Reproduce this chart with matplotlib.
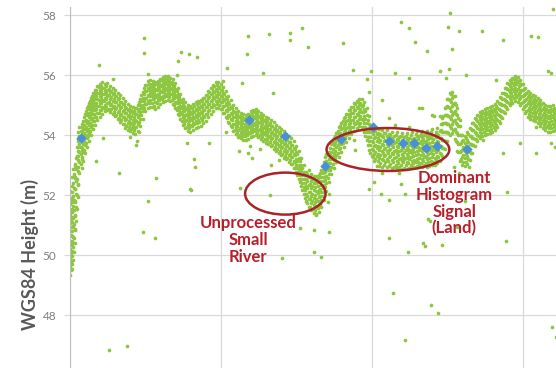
import matplotlib.pyplot as plt
from matplotlib.patches import Ellipse

# along-track distance (m) and WGS84 height (m) of the signal photons,
# dense track given as columns: (distance, [heights at that distance])
band = [
    (0.0, [49.35, 49.62, 49.88, 50.21, 50.47, 50.79, 51.06, 51.38, 51.72, 52.13]),
    (1.5, [49.55, 49.97, 50.36, 50.64, 50.93, 51.27, 51.55, 51.92, 52.31]),
    (3.0, [49.83, 50.28, 50.61, 50.98, 51.24, 51.63, 51.97, 52.42, 52.88]),
    (4.5, [50.42, 50.86, 51.33, 51.78, 52.21, 52.58, 52.97]),
    (6.0, [51.14, 51.61, 52.05, 52.47, 52.86, 53.24]),
    (7.5, [51.93, 52.38, 52.81, 53.16, 53.47, 53.79]),
    (9.0, [52.74, 53.12, 53.44, 53.71, 53.98, 54.26]),
    (10.5, [53.05, 53.38, 53.62, 53.87, 54.15]),
    (12.0, [53.28, 53.57, 53.84, 54.09, 54.37]),
    (14.0, [53.52, 53.81, 54.07, 54.33, 54.61]),
    (16.0, [53.74, 54.02, 54.26, 54.52, 54.79]),
    (18.0, [53.96, 54.21, 54.47, 54.73, 54.98]),
    (20.0, [54.14, 54.42, 54.66, 54.89, 55.13]),
    (22.0, [54.33, 54.58, 54.84, 55.06, 55.29]),
    (24.0, [54.47, 54.72, 54.97, 55.19, 55.41]),
    (26.0, [54.62, 54.86, 55.08, 55.31, 55.52]),
    (28.5, [54.74, 54.97, 55.18, 55.39, 55.61]),
    (31.0, [54.83, 55.06, 55.27, 55.48, 55.64]),
    (33.5, [54.91, 55.14, 55.36, 55.57]),
    (36.0, [54.95, 55.19, 55.42, 55.63]),
    (38.5, [54.88, 55.11, 55.33, 55.54]),
    (41.0, [54.86, 55.04, 55.26, 55.47]),
    (43.5, [54.77, 54.98, 55.21, 55.39]),
    (46.0, [54.68, 54.89, 55.12, 55.31]),
    (48.5, [54.57, 54.79, 55.02, 55.23]),
    (51.0, [54.49, 54.71, 54.93, 55.12]),
    (53.5, [54.38, 54.62, 54.84, 55.03]),
    (56.0, [54.29, 54.53, 54.74, 54.92]),
    (58.5, [54.26, 54.47, 54.68, 54.87]),
    (61.0, [54.21, 54.42, 54.63, 54.84]),
    (63.5, [54.18, 54.39, 54.61, 54.79]),
    (66.0, [54.27, 54.48, 54.71, 54.92]),
    (68.5, [54.44, 54.67, 54.88, 55.09]),
    (71.0, [54.68, 54.91, 55.13, 55.34]),
    (73.5, [54.92, 55.14, 55.36, 55.57]),
    (76.0, [55.03, 55.24, 55.46, 55.68]),
    (78.5, [55.08, 55.29, 55.51, 55.72]),
    (81.0, [55.06, 55.31, 55.52, 55.71]),
    (83.5, [54.98, 55.23, 55.44, 55.66]),
    (86.0, [55.07, 55.28, 55.49, 55.69]),
    (88.5, [55.16, 55.37, 55.58, 55.77]),
    (91.0, [55.22, 55.43, 55.64, 55.83]),
    (93.5, [55.27, 55.48, 55.67, 55.86]),
    (96.0, [55.31, 55.52, 55.71, 55.88]),
    (98.5, [55.28, 55.46, 55.63, 55.81]),
    (101.0, [55.17, 55.38, 55.58, 55.76]),
    (103.5, [55.02, 55.23, 55.44, 55.63]),
    (106.0, [54.84, 55.06, 55.27, 55.46]),
    (108.5, [54.66, 54.87, 55.08, 55.27]),
    (111.0, [54.48, 54.71, 54.92, 55.11]),
    (113.5, [54.36, 54.58, 54.79, 54.98]),
    (116.0, [54.27, 54.49, 54.71, 54.91]),
    (118.5, [54.24, 54.46, 54.68, 54.87]),
    (121.0, [54.29, 54.51, 54.72, 54.92]),
    (123.5, [54.36, 54.57, 54.78, 54.98]),
    (126.0, [54.41, 54.62, 54.84, 55.04]),
    (128.5, [54.45, 54.67, 54.88, 55.07]),
    (131.0, [54.52, 54.74, 54.95, 55.14]),
    (133.5, [54.61, 54.83, 55.04, 55.24]),
    (136.0, [54.72, 54.93, 55.15, 55.35]),
    (138.5, [54.83, 55.05, 55.26, 55.45]),
    (141.0, [54.94, 55.16, 55.37, 55.56]),
    (143.5, [55.02, 55.24, 55.45, 55.64]),
    (146.0, [55.05, 55.26, 55.47, 55.67]),
    (148.5, [54.99, 55.21, 55.42, 55.61]),
    (151.0, [54.88, 55.09, 55.31, 55.51]),
    (153.5, [54.74, 54.96, 55.17, 55.37]),
    (156.0, [54.58, 54.79, 55.01, 55.21]),
    (158.5, [54.42, 54.64, 54.86, 55.05]),
    (161.0, [54.28, 54.49, 54.71, 54.91]),
    (163.5, [54.17, 54.38, 54.59, 54.78]),
    (166.0, [54.08, 54.29, 54.51, 54.71]),
    (168.5, [54.02, 54.23, 54.44, 54.64]),
    (171.0, [53.97, 54.18, 54.39, 54.59]),
    (173.5, [53.96, 54.17, 54.38, 54.57]),
    (176.0, [53.99, 54.21, 54.42, 54.61]),
    (178.5, [54.06, 54.27, 54.48, 54.68]),
    (181.0, [54.11, 54.32, 54.53, 54.73]),
    (183.5, [54.13, 54.34, 54.56, 54.76]),
    (186.0, [54.08, 54.29, 54.51, 54.71]),
    (188.5, [54.0, 54.21, 54.43, 54.63]),
    (191.0, [53.94, 54.15, 54.36, 54.57]),
    (193.5, [53.88, 54.1, 54.31, 54.51]),
    (196.0, [53.83, 54.04, 54.25, 54.46]),
    (198.5, [53.76, 53.97, 54.19, 54.4]),
    (201.0, [53.68, 53.89, 54.11, 54.32]),
    (203.5, [53.61, 53.82, 54.03, 54.24]),
    (206.0, [53.53, 53.74, 53.96, 54.17]),
    (208.5, [53.46, 53.67, 53.88, 54.09]),
    (211.0, [53.38, 53.59, 53.81, 54.02]),
    (213.5, [53.32, 53.53, 53.74, 53.94]),
    (216.0, [53.24, 53.46, 53.67, 53.87]),
    (218.5, [53.16, 53.37, 53.58, 53.78]),
    (221.0, [53.04, 53.26, 53.47, 53.68]),
    (223.5, [52.89, 53.11, 53.33, 53.54]),
    (226.0, [52.68, 52.91, 53.14, 53.36]),
    (228.5, [52.43, 52.67, 52.91, 53.14]),
    (231.0, [52.16, 52.41, 52.66, 52.91]),
    (233.5, [51.92, 52.17, 52.42, 52.67]),
    (236.0, [51.74, 51.98, 52.23, 52.48, 52.72]),
    (238.5, [51.62, 51.86, 52.11, 52.36, 52.61]),
    (241.0, [51.54, 51.79, 52.04, 52.29, 52.54]),
    (243.5, [51.51, 51.76, 52.01, 52.26, 52.52]),
    (246.0, [51.56, 51.81, 52.06, 52.31, 52.57]),
    (248.5, [51.72, 51.97, 52.22, 52.47, 52.73]),
    (251.0, [51.98, 52.23, 52.48, 52.73, 52.98]),
    (253.5, [52.27, 52.52, 52.77, 53.02, 53.26]),
    (256.0, [52.58, 52.83, 53.08, 53.33]),
    (258.5, [52.83, 53.08, 53.33, 53.58]),
    (261.0, [53.04, 53.29, 53.54, 53.78]),
    (263.5, [53.23, 53.48, 53.73, 53.97]),
    (266.0, [53.41, 53.66, 53.91, 54.15]),
    (268.5, [53.58, 53.83, 54.08, 54.31]),
    (271.0, [53.74, 53.99, 54.23, 54.46]),
    (273.5, [53.89, 54.13, 54.37, 54.6]),
    (276.0, [54.03, 54.27, 54.5, 54.72]),
    (278.5, [54.16, 54.4, 54.63, 54.84]),
    (281.0, [54.27, 54.51, 54.74, 54.95]),
    (283.5, [54.36, 54.6, 54.83, 55.03]),
    (286.0, [54.42, 54.66, 54.89, 55.09]),
    (288.5, [54.41, 54.65, 54.88, 55.08]),
    (291.0, [54.27, 54.52, 54.77, 54.99]),
    (293.5, [53.98, 54.27, 54.55, 54.81]),
    (296.0, [53.66, 53.95, 54.24, 54.52]),
    (298.5, [53.41, 53.68, 53.95, 54.22]),
    (301.0, [53.26, 53.51, 53.77, 54.03]),
    (303.5, [53.19, 53.44, 53.68, 53.93, 54.14]),
    (306.0, [53.13, 53.38, 53.63, 53.89, 54.08]),
    (308.5, [53.08, 53.33, 53.59, 53.84, 54.05]),
    (311.0, [53.17, 53.42, 53.68, 53.94]),
    (313.5, [53.1, 53.34, 53.58, 53.83, 54.06]),
    (316.0, [53.14, 53.39, 53.64, 53.88]),
    (318.5, [53.04, 53.29, 53.53, 53.78, 54.01]),
    (321.0, [53.11, 53.36, 53.61, 53.85]),
    (323.5, [53.02, 53.26, 53.51, 53.76, 53.99]),
    (326.0, [53.08, 53.33, 53.59, 53.84]),
    (328.5, [53.01, 53.24, 53.49, 53.73, 53.96]),
    (331.0, [53.09, 53.32, 53.56, 53.81]),
    (333.5, [53.0, 53.25, 53.5, 53.74, 53.97]),
    (336.0, [53.07, 53.31, 53.55, 53.79]),
    (338.5, [53.02, 53.27, 53.52, 53.76, 54.0]),
    (341.0, [53.06, 53.3, 53.55, 53.8]),
    (343.5, [53.09, 53.34, 53.59, 53.84, 54.04]),
    (346.0, [53.12, 53.37, 53.62, 53.87]),
    (348.5, [53.08, 53.33, 53.58, 53.82, 54.03]),
    (351.0, [53.13, 53.38, 53.63, 53.88]),
    (353.5, [53.07, 53.32, 53.57, 53.81, 54.02]),
    (356.0, [53.11, 53.36, 53.61, 53.86]),
    (358.5, [53.14, 53.39, 53.64, 53.89, 54.09]),
    (361.0, [53.12, 53.37, 53.62, 53.87]),
    (363.5, [53.18, 53.43, 53.68, 53.93, 54.12]),
    (366.0, [53.27, 53.52, 53.77, 54.02]),
    (368.5, [53.38, 53.64, 53.9, 54.16, 54.36]),
    (371.0, [53.56, 53.84, 54.12, 54.4, 54.64]),
    (373.5, [53.81, 54.1, 54.39, 54.68, 54.95]),
    (376.0, [54.07, 54.36, 54.65, 54.94, 55.22]),
    (378.5, [54.24, 54.53, 54.82, 55.1, 55.36]),
    (381.0, [54.16, 54.46, 54.75, 55.04, 55.31]),
    (383.5, [53.82, 54.12, 54.42, 54.71, 54.99]),
    (386.0, [53.43, 53.72, 54.01, 54.3, 54.57]),
    (388.5, [53.19, 53.46, 53.74, 54.02]),
    (391.0, [53.09, 53.34, 53.59, 53.85]),
    (393.5, [53.12, 53.37, 53.63, 53.9]),
    (396.0, [53.22, 53.49, 53.76, 54.03]),
    (398.5, [53.42, 53.69, 53.96, 54.21]),
    (401.0, [53.67, 53.92, 54.16, 54.41]),
    (403.5, [53.86, 54.08, 54.31, 54.54]),
    (406.0, [53.98, 54.2, 54.42, 54.63]),
    (408.5, [54.06, 54.28, 54.49, 54.7]),
    (411.0, [54.12, 54.33, 54.54, 54.74]),
    (413.5, [54.16, 54.37, 54.58, 54.78]),
    (416.0, [54.18, 54.39, 54.6, 54.81]),
    (418.5, [54.21, 54.42, 54.63, 54.83]),
    (421.0, [54.26, 54.47, 54.68, 54.88]),
    (423.5, [54.34, 54.55, 54.76, 54.96]),
    (426.0, [54.46, 54.67, 54.88, 55.08]),
    (428.5, [54.61, 54.82, 55.03, 55.23]),
    (431.0, [54.78, 54.99, 55.2, 55.4]),
    (433.5, [54.94, 55.15, 55.36, 55.56]),
    (436.0, [55.08, 55.29, 55.5, 55.69]),
    (438.5, [55.18, 55.39, 55.6, 55.79]),
    (441.0, [55.25, 55.46, 55.67, 55.86]),
    (443.5, [55.27, 55.48, 55.69, 55.87]),
    (446.0, [55.21, 55.42, 55.63, 55.82]),
    (448.5, [55.08, 55.29, 55.5, 55.69]),
    (451.0, [54.93, 55.14, 55.35, 55.55]),
    (453.5, [54.8, 55.01, 55.22, 55.42]),
    (456.0, [54.71, 54.92, 55.13, 55.33]),
    (458.5, [54.65, 54.86, 55.07, 55.27]),
    (461.0, [54.61, 54.82, 55.03, 55.22]),
    (463.5, [54.56, 54.77, 54.98, 55.17]),
    (466.0, [54.49, 54.7, 54.91, 55.11]),
    (468.5, [54.41, 54.62, 54.83, 55.03]),
    (471.0, [54.33, 54.54, 54.75, 54.95]),
    (473.5, [54.26, 54.47, 54.68, 54.88]),
    (476.0, [54.23, 54.44, 54.65, 54.85]),
    (478.5, [54.25, 54.46, 54.67, 54.87]),
    (481.0, [54.28, 54.49, 54.7, 54.9]),
    (483.0, [54.31, 54.52, 54.73]),
]

# second beam pass, shot between the columns above
band2 = [
    (0.75, [49.5, 49.78, 50.08, 50.35, 50.66, 50.95, 51.22, 51.5, 51.85]),
    (2.25, [49.72, 50.15, 50.47, 50.8, 51.12, 51.45, 51.76, 52.1, 52.6]),
    (3.75, [50.1, 50.57, 51.05, 51.5, 51.85, 52.25, 52.7]),
    (5.25, [50.85, 51.3, 51.8, 52.22, 52.62, 53.05]),
    (6.75, [51.55, 52.0, 52.55, 52.95, 53.3, 53.6]),
    (8.25, [52.35, 52.95, 53.3, 53.6, 53.88, 54.12]),
    (11.75, [52.92, 53.2, 53.52, 53.76, 54.02, 54.26]),
    (13.25, [53.15, 53.44, 53.69, 53.97, 54.22, 54.48]),
    (15.0, [53.4, 53.66, 53.95, 54.2, 54.47, 54.72]),
    (17.0, [53.6, 53.9, 54.13, 54.4, 54.66, 54.9]),
    (19.0, [53.82, 54.08, 54.35, 54.6, 54.86, 55.08]),
    (21.0, [54.02, 54.28, 54.53, 54.78, 55.0, 55.24]),
    (23.0, [54.2, 54.46, 54.7, 54.95, 55.18, 55.4]),
    (25.0, [54.34, 54.6, 54.85, 55.08, 55.3, 55.52]),
    (27.25, [54.5, 54.74, 54.97, 55.2, 55.42, 55.63]),
    (29.75, [54.6, 54.85, 55.08, 55.29, 55.5, 55.72]),
    (32.25, [54.7, 54.95, 55.17, 55.38, 55.56, 55.76]),
    (34.75, [54.79, 55.02, 55.25, 55.47, 55.69]),
    (37.25, [54.83, 55.07, 55.3, 55.52, 55.74]),
    (39.75, [54.76, 55.0, 55.22, 55.44, 55.65]),
    (42.25, [54.72, 54.95, 55.15, 55.37, 55.58]),
    (44.75, [54.64, 54.88, 55.09, 55.3, 55.5]),
    (47.25, [54.55, 54.78, 55.0, 55.22, 55.42]),
    (49.75, [54.44, 54.68, 54.9, 55.12, 55.33]),
    (52.25, [54.36, 54.6, 54.82, 55.03, 55.23]),
    (54.75, [54.25, 54.5, 54.73, 54.94, 55.14]),
    (57.25, [54.16, 54.41, 54.63, 54.83, 55.03]),
    (59.75, [54.13, 54.37, 54.58, 54.77, 54.97]),
    (62.25, [54.08, 54.31, 54.52, 54.74, 54.95]),
    (64.75, [54.05, 54.28, 54.5, 54.7, 54.9]),
    (67.25, [54.14, 54.37, 54.6, 54.82, 55.02]),
    (69.75, [54.31, 54.55, 54.78, 54.99, 55.2]),
    (72.25, [54.55, 54.8, 55.02, 55.24, 55.45]),
    (74.75, [54.79, 55.03, 55.25, 55.47, 55.68]),
    (77.25, [54.9, 55.13, 55.35, 55.57, 55.79]),
    (79.75, [54.95, 55.18, 55.4, 55.62, 55.83]),
    (82.25, [54.93, 55.19, 55.42, 55.61, 55.82]),
    (84.75, [54.86, 55.1, 55.33, 55.55, 55.77]),
    (87.25, [54.94, 55.17, 55.38, 55.59, 55.8]),
    (89.75, [55.03, 55.26, 55.48, 55.68, 55.88]),
    (92.25, [55.09, 55.32, 55.54, 55.73, 55.93]),
    (94.75, [55.14, 55.37, 55.58, 55.77, 55.97]),
    (97.25, [55.18, 55.41, 55.62, 55.8, 55.98]),
    (99.75, [55.15, 55.37, 55.55, 55.72, 55.92]),
    (102.25, [55.04, 55.27, 55.48, 55.67, 55.87]),
    (104.75, [54.89, 55.12, 55.33, 55.54, 55.74]),
    (107.25, [54.71, 54.95, 55.16, 55.37, 55.57]),
    (109.75, [54.53, 54.77, 54.98, 55.18, 55.38]),
    (112.25, [54.35, 54.6, 54.81, 55.02, 55.22]),
    (114.75, [54.23, 54.47, 54.68, 54.88, 55.09]),
    (117.25, [54.14, 54.38, 54.6, 54.81, 55.02]),
    (119.75, [54.11, 54.35, 54.57, 54.78, 54.98]),
    (122.25, [54.16, 54.4, 54.62, 54.82, 55.03]),
    (124.75, [54.23, 54.46, 54.67, 54.88, 55.09]),
    (127.25, [54.28, 54.52, 54.73, 54.94, 55.15]),
    (129.75, [54.32, 54.56, 54.78, 54.97, 55.18]),
    (132.25, [54.39, 54.63, 54.85, 55.05, 55.25]),
    (134.75, [54.48, 54.72, 54.93, 55.14, 55.35]),
    (137.25, [54.59, 54.82, 55.04, 55.25, 55.46]),
    (139.75, [54.7, 54.94, 55.15, 55.36, 55.56]),
    (142.25, [54.81, 55.05, 55.26, 55.47, 55.67]),
    (144.75, [54.89, 55.13, 55.34, 55.55, 55.76]),
    (147.25, [54.92, 55.15, 55.37, 55.57, 55.78]),
    (149.75, [54.86, 55.1, 55.31, 55.52, 55.72]),
    (152.25, [54.75, 54.98, 55.2, 55.41, 55.62]),
    (154.75, [54.61, 54.85, 55.06, 55.27, 55.48]),
    (157.25, [54.45, 54.68, 54.9, 55.11, 55.32]),
    (159.75, [54.29, 54.53, 54.75, 54.95, 55.16]),
    (162.25, [54.15, 54.38, 54.6, 54.81, 55.02]),
    (164.75, [54.04, 54.27, 54.48, 54.69, 54.89]),
    (167.25, [53.95, 54.18, 54.4, 54.61, 54.82]),
    (169.75, [53.89, 54.12, 54.33, 54.54, 54.75]),
    (172.25, [53.84, 54.07, 54.28, 54.49, 54.7]),
    (174.75, [53.83, 54.06, 54.27, 54.48, 54.68]),
    (177.25, [53.86, 54.1, 54.31, 54.52, 54.72]),
    (179.75, [53.93, 54.16, 54.37, 54.58, 54.79]),
    (182.25, [53.98, 54.21, 54.42, 54.63, 54.84]),
    (184.75, [54.0, 54.23, 54.45, 54.66, 54.87]),
    (187.25, [53.95, 54.18, 54.4, 54.61, 54.82]),
    (189.75, [53.87, 54.1, 54.32, 54.53, 54.74]),
    (192.25, [53.81, 54.04, 54.25, 54.47, 54.68]),
    (194.75, [53.75, 53.99, 54.2, 54.41, 54.62]),
    (197.25, [53.7, 53.93, 54.14, 54.35, 54.57]),
    (199.75, [53.63, 53.86, 54.08, 54.3, 54.51]),
    (202.25, [53.55, 53.78, 54.0, 54.22, 54.43]),
    (204.75, [53.48, 53.71, 53.92, 54.14, 54.35]),
    (207.25, [53.4, 53.63, 53.85, 54.06, 54.28]),
    (209.75, [53.33, 53.56, 53.77, 53.98, 54.2]),
    (212.25, [53.25, 53.48, 53.7, 53.91, 54.13]),
    (214.75, [53.19, 53.42, 53.63, 53.84, 54.05]),
    (217.25, [53.11, 53.35, 53.56, 53.77, 53.98]),
    (219.75, [53.03, 53.26, 53.47, 53.68, 53.89]),
    (222.25, [52.91, 53.15, 53.36, 53.57, 53.79]),
    (224.75, [52.76, 53.0, 53.22, 53.44, 53.65]),
    (227.25, [52.55, 52.8, 53.02, 53.25, 53.47]),
    (229.75, [52.3, 52.55, 52.79, 53.02, 53.25]),
    (232.25, [52.03, 52.28, 52.53, 52.78, 53.02]),
    (234.75, [51.79, 52.04, 52.29, 52.54, 52.78]),
    (237.25, [51.61, 51.86, 52.1, 52.35, 52.6, 52.83]),
    (239.75, [51.49, 51.74, 51.98, 52.23, 52.48, 52.72]),
    (242.25, [51.41, 51.66, 51.91, 52.16, 52.41, 52.65]),
    (244.75, [51.38, 51.63, 51.88, 52.13, 52.39, 52.63]),
    (247.25, [51.43, 51.68, 51.93, 52.18, 52.44, 52.68]),
    (249.75, [51.59, 51.84, 52.09, 52.34, 52.6, 52.84]),
    (252.25, [51.85, 52.1, 52.35, 52.6, 52.85, 53.09]),
    (254.75, [52.14, 52.39, 52.64, 52.89, 53.14, 53.37]),
    (257.25, [52.45, 52.7, 52.95, 53.2, 53.44]),
    (259.75, [52.7, 52.95, 53.2, 53.45, 53.69]),
    (262.25, [52.91, 53.16, 53.41, 53.66, 53.89]),
    (264.75, [53.1, 53.35, 53.6, 53.85, 54.08]),
    (267.25, [53.28, 53.53, 53.78, 54.03, 54.26]),
    (269.75, [53.45, 53.7, 53.95, 54.19, 54.42]),
    (272.25, [53.61, 53.86, 54.11, 54.34, 54.57]),
    (274.75, [53.76, 54.01, 54.25, 54.48, 54.71]),
    (277.25, [53.9, 54.15, 54.38, 54.61, 54.83]),
    (279.75, [54.03, 54.28, 54.51, 54.73, 54.95]),
    (282.25, [54.14, 54.39, 54.62, 54.84, 55.06]),
    (284.75, [54.23, 54.48, 54.71, 54.93, 55.14]),
    (287.25, [54.29, 54.54, 54.77, 54.99, 55.2]),
    (289.75, [54.28, 54.53, 54.76, 54.98, 55.19]),
    (292.25, [54.12, 54.4, 54.64, 54.88, 55.1]),
    (294.75, [53.83, 54.12, 54.41, 54.68, 54.92]),
    (297.25, [53.52, 53.8, 54.09, 54.38, 54.63]),
    (299.75, [53.3, 53.55, 53.82, 54.09, 54.33]),
    (302.25, [53.13, 53.38, 53.64, 53.9, 54.14]),
    (304.75, [52.98, 53.3, 53.56, 53.8, 54.04, 54.24]),
    (307.25, [52.96, 53.25, 53.5, 53.76, 54.0, 54.2]),
    (309.75, [52.93, 53.21, 53.46, 53.72, 53.98, 54.17]),
    (312.25, [52.99, 53.29, 53.55, 53.81, 54.06]),
    (314.75, [52.94, 53.22, 53.47, 53.71, 53.96, 54.18]),
    (317.25, [52.97, 53.26, 53.52, 53.77, 54.03]),
    (319.75, [52.91, 53.17, 53.41, 53.66, 53.9, 54.12]),
    (322.25, [52.95, 53.23, 53.48, 53.73, 53.97]),
    (324.75, [52.89, 53.14, 53.39, 53.64, 53.88, 54.1]),
    (327.25, [52.93, 53.2, 53.46, 53.71, 53.95]),
    (329.75, [52.88, 53.13, 53.37, 53.61, 53.85, 54.07]),
    (332.25, [52.92, 53.21, 53.44, 53.69, 53.93]),
    (334.75, [52.87, 53.12, 53.38, 53.62, 53.86, 54.08]),
    (337.25, [52.91, 53.19, 53.43, 53.67, 53.91]),
    (339.75, [52.89, 53.15, 53.4, 53.64, 53.88, 54.1]),
    (342.25, [52.93, 53.18, 53.43, 53.68, 53.92]),
    (344.75, [52.96, 53.22, 53.47, 53.72, 53.96, 54.15]),
    (347.25, [52.99, 53.25, 53.5, 53.75, 53.98]),
    (349.75, [52.95, 53.21, 53.46, 53.7, 53.95, 54.14]),
    (352.25, [53.0, 53.26, 53.51, 53.76, 54.0]),
    (354.75, [52.94, 53.2, 53.45, 53.69, 53.94, 54.13]),
    (357.25, [52.98, 53.24, 53.49, 53.74, 53.98]),
    (359.75, [53.01, 53.27, 53.52, 53.77, 54.0, 54.2]),
    (362.25, [53.0, 53.25, 53.5, 53.75, 54.0]),
    (364.75, [53.06, 53.31, 53.56, 53.81, 54.05, 54.24]),
    (367.25, [53.15, 53.4, 53.65, 53.9, 54.14]),
    (369.75, [53.32, 53.57, 53.83, 54.1, 54.38, 54.56]),
    (372.25, [53.54, 53.82, 54.11, 54.4, 54.68, 54.9]),
    (374.75, [53.8, 54.09, 54.38, 54.67, 54.96, 55.2]),
    (377.25, [54.02, 54.31, 54.6, 54.89, 55.17, 55.42]),
    (379.75, [54.08, 54.38, 54.67, 54.96, 55.24, 55.45]),
    (382.25, [53.88, 54.19, 54.49, 54.79, 55.08, 55.3]),
    (384.75, [53.48, 53.78, 54.07, 54.37, 54.66, 54.9]),
    (387.25, [53.15, 53.44, 53.72, 54.01, 54.29, 54.5]),
    (389.75, [53.0, 53.27, 53.52, 53.79, 54.02]),
    (392.25, [52.97, 53.23, 53.48, 53.75, 53.98]),
    (394.75, [53.03, 53.3, 53.56, 53.83, 54.1]),
    (397.25, [53.18, 53.45, 53.72, 53.98, 54.25]),
    (399.75, [53.42, 53.67, 53.92, 54.17, 54.42]),
    (402.25, [53.64, 53.88, 54.11, 54.34, 54.58]),
    (404.75, [53.8, 54.02, 54.24, 54.46, 54.68]),
    (407.25, [53.9, 54.12, 54.33, 54.55, 54.76]),
    (409.75, [53.97, 54.19, 54.4, 54.61, 54.82]),
    (412.25, [54.02, 54.24, 54.45, 54.66, 54.86]),
    (414.75, [54.05, 54.27, 54.48, 54.69, 54.9]),
    (417.25, [54.07, 54.3, 54.51, 54.72, 54.93]),
    (419.75, [54.1, 54.34, 54.55, 54.76, 54.96]),
    (422.25, [54.17, 54.4, 54.61, 54.82, 55.03]),
    (424.75, [54.27, 54.5, 54.71, 54.92, 55.13]),
    (427.25, [54.4, 54.63, 54.84, 55.05, 55.26]),
    (429.75, [54.56, 54.79, 55.0, 55.21, 55.42]),
    (432.25, [54.73, 54.96, 55.17, 55.38, 55.58]),
    (434.75, [54.88, 55.11, 55.32, 55.53, 55.73]),
    (437.25, [55.0, 55.23, 55.44, 55.65, 55.84]),
    (439.75, [55.08, 55.32, 55.53, 55.73, 55.92]),
    (442.25, [55.13, 55.36, 55.57, 55.78, 55.96]),
    (444.75, [55.11, 55.34, 55.55, 55.76, 55.95]),
    (447.25, [55.01, 55.24, 55.45, 55.66, 55.85]),
    (449.75, [54.87, 55.1, 55.31, 55.52, 55.72]),
    (452.25, [54.73, 54.96, 55.17, 55.38, 55.58]),
    (454.75, [54.62, 54.85, 55.06, 55.27, 55.47]),
    (457.25, [54.55, 54.78, 54.99, 55.2, 55.4]),
    (459.75, [54.5, 54.73, 54.94, 55.15, 55.34]),
    (462.25, [54.46, 54.68, 54.89, 55.1, 55.3]),
    (464.75, [54.4, 54.62, 54.83, 55.04, 55.24]),
    (467.25, [54.32, 54.54, 54.75, 54.96, 55.16]),
    (469.75, [54.24, 54.46, 54.67, 54.88, 55.08]),
    (472.25, [54.17, 54.39, 54.6, 54.81, 55.01]),
    (474.75, [54.12, 54.35, 54.56, 54.77, 54.97]),
    (477.25, [54.12, 54.35, 54.56, 54.77, 54.98]),
    (479.75, [54.15, 54.38, 54.59, 54.8, 55.0]),
    (482.25, [54.18, 54.4, 54.62, 54.83]),
]

# scattered noise photons
noise_x = [29, 74, 74, 110, 118, 126, 107, 43, 78, 106, 156, 152, 177, 176, 198,
           219, 231, 219, 237, 192, 171, 202, 33, 26, 49, 85, 60, 67, 66, 116,
           138, 123, 124, 155, 168, 177, 181, 179, 189, 200, 208, 119, 62, 69,
           78, 120, 73, 84, 39, 57, 169, 199, 229, 211,
           271, 281, 299, 295, 329, 337, 343, 355, 378, 376, 387, 380, 409, 430,
           458, 465, 480, 323, 337, 368, 377, 374, 394, 475, 478, 423, 297, 350,
           362, 368, 482, 478, 463,
           297, 309, 317, 329, 333, 317, 336, 351, 353, 370, 356, 358, 385, 393,
           434, 433, 321, 359, 366, 333, 479, 483, 242, 257, 242, 249, 244, 257,
           256, 310, 327, 340, 302, 382, 387, 397, 417, 410, 430, 447, 463, 282,
           283, 323, 337, 347, 360, 310, 317]
noise_h = [56.33, 57.23, 56.73, 56.77, 56.70, 56.60, 56.47, 55.87, 56.03, 56.00,
           56.23, 55.80, 57.30, 56.70, 57.37, 57.40, 57.57, 57.17, 56.93, 56.07,
           55.73, 55.40, 53.90, 53.13, 52.73, 52.57, 53.93, 53.80, 53.67, 53.73,
           53.73, 53.20, 52.93, 54.10, 53.47, 53.40, 53.23, 53.63, 53.53, 53.00,
           53.17, 52.20, 54.23, 54.10,
           51.80, 52.17, 50.77, 50.57, 46.83, 46.97, 52.23, 52.00, 50.90, 49.90,
           57.07, 56.17, 56.13, 55.87, 57.77, 57.57, 57.10, 56.80, 58.07, 57.60,
           57.47, 56.87, 57.47, 57.17, 57.30, 57.27, 58.20, 56.07, 55.90, 56.13,
           56.20, 55.90, 56.00, 56.13, 56.07, 55.83, 55.43, 54.90, 54.63, 54.63,
           53.60, 53.73, 54.27,
           52.20, 52.03, 51.83, 52.37, 52.03, 50.57, 50.10, 50.40, 50.30, 50.33,
           51.20, 51.13, 50.93, 51.80, 52.10, 50.47, 48.73, 48.33, 48.07, 47.17,
           47.60, 47.27, 50.83, 50.77, 50.10, 49.93, 51.33, 52.03, 51.77, 52.73,
           52.73, 52.93, 52.43, 52.93, 52.73, 52.93, 54.07, 53.83, 53.40, 53.73,
           53.40, 53.83, 53.50, 54.33, 54.27, 54.90, 54.67, 55.17, 54.57]

# histogram-derived surface heights
surf_x = [11, 178, 214, 253, 269, 301, 317, 331, 342, 354, 365, 395]
surf_h = [53.90, 54.50, 53.97, 52.97, 53.87, 54.27, 53.80, 53.73, 53.73, 53.57,
          53.63, 53.53]

yticks = [48, 50, 52, 54, 56, 58]

green = '#8dc63f'
blue = '#4a8fd8'
red = '#a8242a'
text_red = '#b81f2a'

fig = plt.figure(figsize=(5.56, 3.68), dpi=100)
ax = fig.add_axes([70 / 556, 0, 486 / 556, 361 / 368])

track_x = [x for x, hs in band + band2 for h in hs]
track_h = [h for x, hs in band + band2 for h in hs]
ax.scatter(track_x, track_h, s=7, color=green, linewidths=0, zorder=2)
ax.scatter(noise_x, noise_h, s=7, color=green, linewidths=0, zorder=2)
ax.scatter(surf_x, surf_h, s=28, marker='D', color=blue, linewidths=0, zorder=3)

# circled areas
ax.add_patch(Ellipse((214, 52.05), 80, 1.4, fill=False, edgecolor=red, lw=1.8, zorder=4))
ax.add_patch(Ellipse((316, 53.52), 122, 1.43, fill=False, edgecolor=red, lw=1.8, zorder=4))

ax.text(177, 50.5, 'Unprocessed\nSmall\nRiver', ha='center', va='center',
        color=text_red, fontsize=12, fontweight='bold', family='Lato', linespacing=1.05)
ax.text(382, 51.72, 'Dominant\nHistogram\nSignal\n(Land)', ha='center', va='center',
        color=text_red, fontsize=12, fontweight='bold', family='Lato', linespacing=1.05)

ax.set_xlim(0, 483)
ax.set_ylim(46.237, 58.27)
ax.set_xticks([0, 150, 300, 450])
ax.set_yticks(yticks)
ax.set_yticklabels([str(t) for t in yticks], fontsize=8.5, color='#7f7f7f', family='Lato')
ax.tick_params(axis='x', length=0, labelbottom=False)
ax.tick_params(axis='y', length=4, color='#d9d9d9', pad=6)
ax.grid(True, color='#d9d9d9', lw=0.9, zorder=0)
ax.set_axisbelow(True)
for side in ['top', 'right', 'bottom']:
    ax.spines[side].set_visible(False)
ax.spines['left'].set_color('#bfbfbf')

fig.text(30 / 556, 1 - 254 / 368, 'WGS84 Height (m)', rotation=90, ha='center',
         va='center', fontsize=13, fontweight='bold', color='#595959', family='Lato')

fig.savefig('out.png', dpi=100)
